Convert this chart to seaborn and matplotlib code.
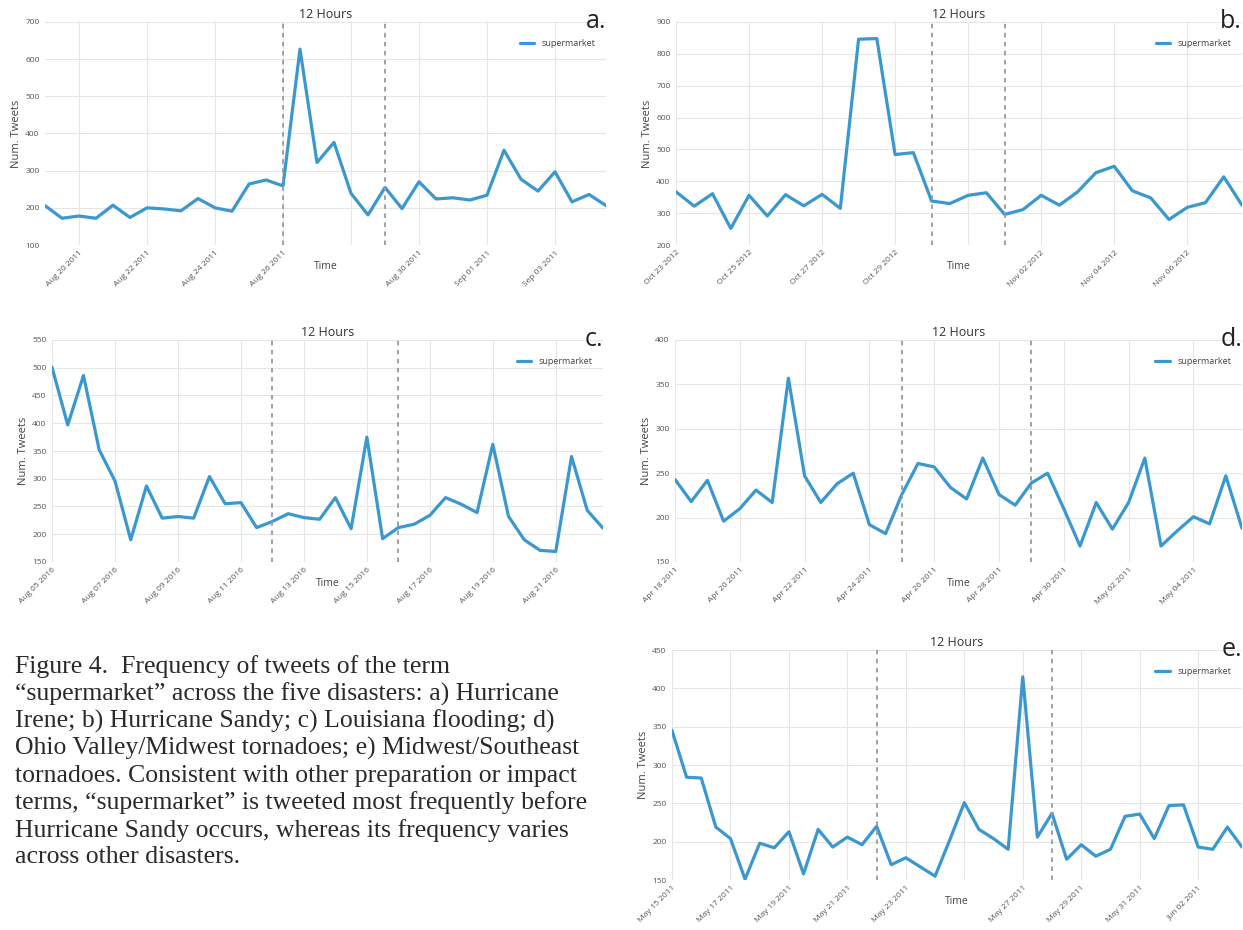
import pandas as pd
import numpy as np
import matplotlib
matplotlib.use('Agg')
import matplotlib.pyplot as plt
import seaborn as sns

# 12-hour counts of "supermarket" tweets
irene = [206, 172, 178, 172, 207, 174, 200, 197, 192, 225, 200, 191, 264, 275, 259,
         627, 322, 376, 239, 181, 255, 198, 270, 224, 227, 221, 234, 355, 277, 245,
         297, 216, 236, 206]
sandy = [367, 322, 361, 252, 356, 291, 358, 323, 359, 315, 846, 848, 484, 490, 338,
         330, 356, 364, 296, 311, 356, 325, 367, 427, 447, 370, 348, 280, 318, 333,
         414, 325]
louisiana = [501, 397, 486, 352, 296, 190, 287, 229, 232, 229, 304, 255, 257, 212, 223,
             237, 230, 227, 266, 210, 375, 192, 212, 218, 234, 266, 254, 239, 362, 232,
             190, 171, 169, 340, 243, 211]
ohio = [243, 218, 242, 196, 210, 231, 217, 357, 247, 217, 238, 250, 192, 182, 226,
        261, 257, 234, 221, 267, 226, 214, 239, 250, 210, 168, 217, 187, 217, 267,
        168, 185, 201, 193, 247, 188]
midwest = [345, 284, 283, 219, 204, 151, 198, 192, 213, 158, 216, 193, 206, 196, 220,
           170, 179, 167, 155, 202, 251, 216, 204, 190, 415, 206, 237, 177, 196, 181,
           190, 233, 236, 204, 247, 248, 193, 190, 219, 193]

starts = ['2011-08-19', '2012-10-23', '2016-08-05', '2011-04-18', '2011-05-15']
tick_starts = ['2011-08-20', '2012-10-23', '2016-08-05', '2011-04-18', '2011-05-15']
events = [['2011-08-26', '2011-08-29'], ['2012-10-30', '2012-11-01'],
          ['2016-08-12', '2016-08-16'], ['2011-04-25', '2011-04-29'],
          ['2011-05-22', '2011-05-28']]
hidden = [['2011-08-28'], ['2012-10-31'], [], [], ['2011-05-25']]
ylims = [(100, 700, 100), (200, 900, 100), (150, 550, 50), (150, 400, 50), (150, 450, 50)]
letters = ['a.', 'b.', 'c.', 'd.', 'e.']
series = [irene, sandy, louisiana, ohio, midwest]

caption = ["Figure 4.  Frequency of tweets of the term",
           "\u201csupermarket\u201d across the five disasters: a) Hurricane",
           "Irene; b) Hurricane Sandy; c) Louisiana flooding; d)",
           "Ohio Valley/Midwest tornadoes; e) Midwest/Southeast",
           "tornadoes. Consistent with other preparation or impact",
           "terms, \u201csupermarket\u201d is tweeted most frequently before",
           "Hurricane Sandy occurs, whereas its frequency varies",
           "across other disasters."]

sns.set_style('whitegrid', {'grid.color': '#e6e6e6'})
plt.rcParams['font.family'] = ['Open Sans', 'DejaVu Sans']

W, H = 1243, 930
fig = plt.figure(figsize=(W / 100, H / 100), dpi=100)

# axes boxes in pixels: left, top, right, bottom
boxes = [(45, 22, 606, 245), (676, 22, 1242, 245), (52, 340, 603, 562),
         (675, 340, 1242, 562), (672, 650, 1242, 880)]
line_col = '#3a98cf'

for i in range(5):
    l, t, r, b = boxes[i]
    ax = fig.add_axes([l / W, 1 - b / H, (r - l) / W, (b - t) / H])
    vals = series[i]
    df = pd.DataFrame({'Time': pd.date_range(starts[i], periods=len(vals), freq='12h'),
                       'Num. Tweets': vals})
    sns.lineplot(data=df, x='Time', y='Num. Tweets', ax=ax, color=line_col,
                 lw=2.3, label='supermarket')
    for ev in events[i]:
        ax.axvline(pd.Timestamp(ev), color='#9a9a9a', lw=1.3, ls=(0, (2.5, 2.5)))
    ticks = pd.date_range(tick_starts[i], df['Time'].iloc[-1], freq='2D')
    labels = ['' if d.strftime('%Y-%m-%d') in hidden[i] else d.strftime('%b %d %Y') for d in ticks]
    ax.set_xticks(list(ticks))
    ax.set_xticklabels(labels, rotation=45, ha='right', rotation_mode='anchor',
                       fontsize=6, color='#555555')
    ax.set_xlim(df['Time'].iloc[0], df['Time'].iloc[-1])
    lo, hi, st = ylims[i]
    ax.set_ylim(lo, hi)
    ax.set_yticks(np.arange(lo, hi + 1, st))
    ax.tick_params(axis='y', labelsize=6, labelcolor='#555555', pad=4, length=0)
    ax.tick_params(axis='x', length=0, pad=3)
    ax.set_xlabel('Time', fontsize=7.5, color='#444444')
    ax.xaxis.set_label_coords(0.5, -0.07)
    ax.set_ylabel('Num. Tweets', fontsize=8, color='#444444', labelpad=2)
    ax.set_title('12 Hours', fontsize=9, color='#333333', pad=3)
    ax.text(1.0, 0.975, letters[i], transform=ax.transAxes, ha='right', va='baseline',
            fontsize=18, color='#222222')
    ax.legend(loc='upper right', bbox_to_anchor=(0.995, 0.96), frameon=False,
              fontsize=6.5, handlelength=1.6, labelcolor='#444444')
    sns.despine(ax=ax, left=True, bottom=True)

for k, line in enumerate(caption):
    fig.text(15 / W, 1 - (667 + 27.2 * k) / H, line, fontsize=18.5, va='center', ha='left',
             family='Liberation Serif', color='#2a2a2a')

fig.savefig('out.png', dpi=100)
